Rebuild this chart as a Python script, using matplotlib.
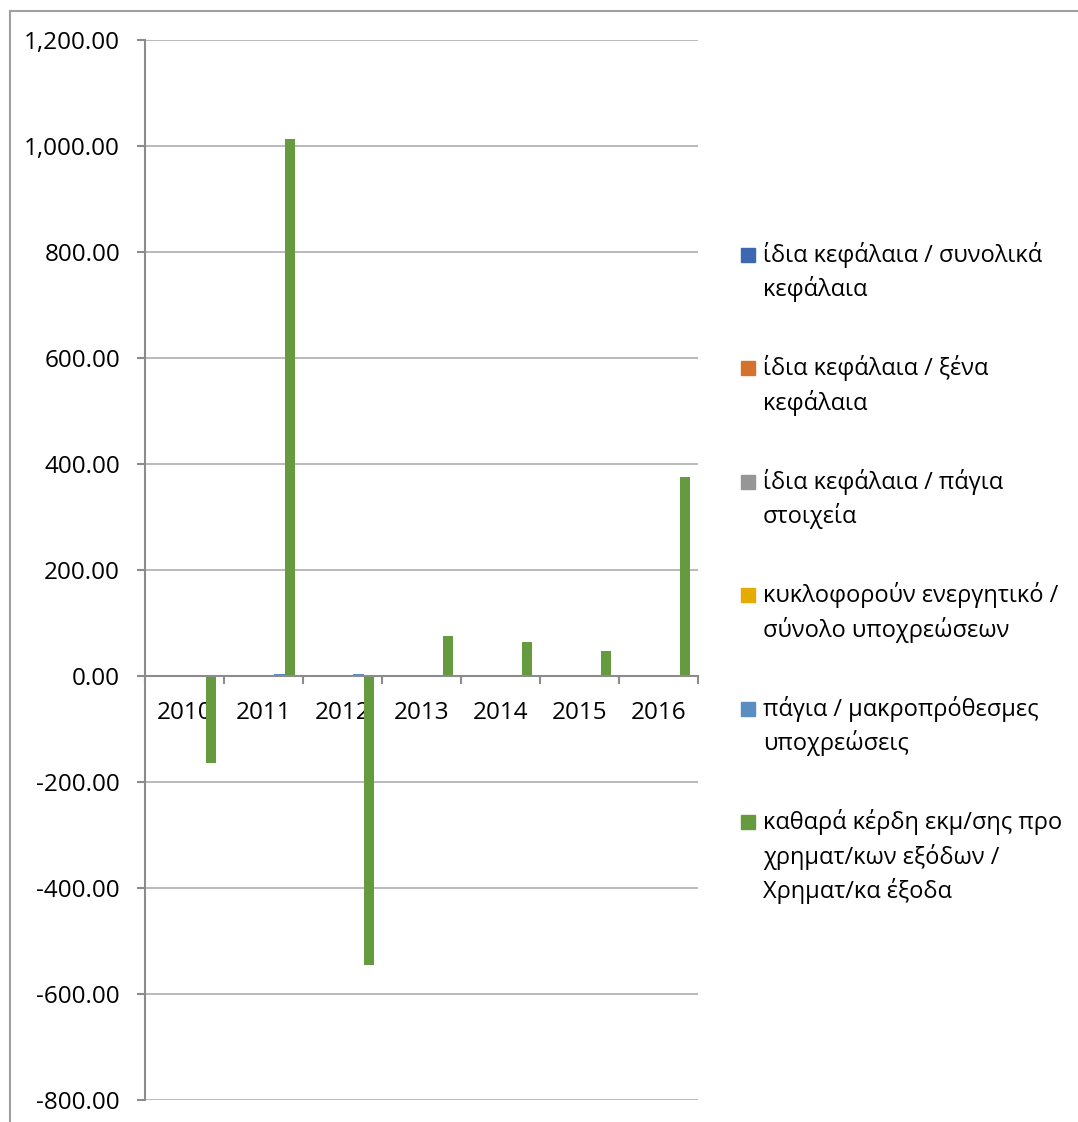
import matplotlib.pyplot as plt
from matplotlib.patches import Rectangle
from matplotlib.lines import Line2D
from matplotlib.ticker import FuncFormatter, FixedLocator
import numpy as np

plt.rcParams['font.family'] = ['Open Sans', 'DejaVu Sans']

# data
years = ['2010', '2011', '2012', '2013', '2014', '2015', '2016']
series_names = [
    'ίδια κεφάλαια / συνολικά\nκεφάλαια',
    'ίδια κεφάλαια / ξένα\nκεφάλαια',
    'ίδια κεφάλαια / πάγια\nστοιχεία',
    'κυκλοφορούν ενεργητικό /\nσύνολο υποχρεώσεων',
    'πάγια / μακροπρόθεσμες\nυποχρεώσεις',
    'καθαρά κέρδη εκμ/σης προ\nχρηματ/κων εξόδων /\nΧρηματ/κα έξοδα',
]
equity_total = [0.3, 0.3, 0.2, 0.4, 0.4, 0.4, 0.4]
equity_foreign = [0.4, 0.5, 0.3, 0.6, 0.7, 0.7, 0.6]
equity_fixed = [0.8, 0.9, 0.7, 1.0, 1.1, 1.0, 1.0]
current_liab = [1.1, 1.2, 0.9, 1.3, 1.4, 1.3, 1.2]
fixed_longterm = [2.5, 3.5, 3.0, 2.0, 2.5, 2.2, 2.0]
ebit_interest = [-165, 1013, -545, 75, 65, 47, 376]
values = [equity_total, equity_foreign, equity_fixed, current_liab,
          fixed_longterm, ebit_interest]
colors = ['#3E67B1', '#D4712C', '#969696', '#E5AB00', '#5A8DC1', '#659B3E']

W, H = 1078, 1122
fig = plt.figure(figsize=(W / 100, H / 100), dpi=100)
ax = fig.add_axes([145 / W, 22 / H, 553 / W, 1060 / H])

n = len(values)
bw = 1 / (n + 1.5)
x = np.arange(len(years))
for j, (vals, c) in enumerate(zip(values, colors)):
    ax.bar(x - 0.5 + 0.75 * bw + (j + 0.5) * bw, vals, bw, color=c, zorder=3)

ax.set_xlim(-0.5, len(years) - 0.5)
ax.set_ylim(-800, 1200)
ax.set_yticks(np.arange(-800, 1201, 200))
ax.yaxis.set_major_formatter(FuncFormatter(lambda v, p: '{:,.2f}'.format(v)))
ax.grid(axis='y', color='#B4B4B4', lw=1.3, zorder=0)

axc = '#8C8C8C'
for s in ['top', 'right']:
    ax.spines[s].set_visible(False)
ax.spines['left'].set_color(axc)
ax.spines['left'].set_linewidth(1.5)
ax.spines['bottom'].set_position(('data', 0))
ax.spines['bottom'].set_color(axc)
ax.spines['bottom'].set_linewidth(1.5)
ax.spines['bottom'].set_zorder(4)

ax.xaxis.set_major_locator(FixedLocator(np.arange(-0.5, len(years), 1)))
ax.xaxis.set_minor_locator(FixedLocator(x))
ax.set_xticklabels([], minor=False)
ax.set_xticklabels(years, minor=True)
ax.tick_params(axis='x', which='major', direction='out', length=6,
               color=axc, width=1.5)
ax.tick_params(axis='x', which='minor', length=0, pad=18, labelsize=17.5)
ax.tick_params(axis='y', direction='out', length=6, color=axc, width=1.5,
               pad=12, labelsize=17.5)

# legend drawn like the spreadsheet one
y0 = 255
for j, (name, c) in enumerate(zip(series_names, colors)):
    yc = y0 + j * 113.4
    fig.patches.append(Rectangle((741 / W, 1 - (yc + 7) / H), 14 / W, 14 / H,
                                 transform=fig.transFigure, color=c))
    for k, line in enumerate(name.split('\n')):
        fig.text(763 / W, 1 - (yc + k * 34.5) / H, line, fontsize=17,
                 va='center', ha='left')

# outer chart frame
fig.add_artist(Line2D([9.5 / W, 9.5 / W], [0, 1 - 10.5 / H], color='#A0A0A0', lw=1.5))
fig.add_artist(Line2D([9.5 / W, 1], [1 - 10.5 / H, 1 - 10.5 / H], color='#A0A0A0', lw=1.5))

fig.savefig('out.png', dpi=100)
